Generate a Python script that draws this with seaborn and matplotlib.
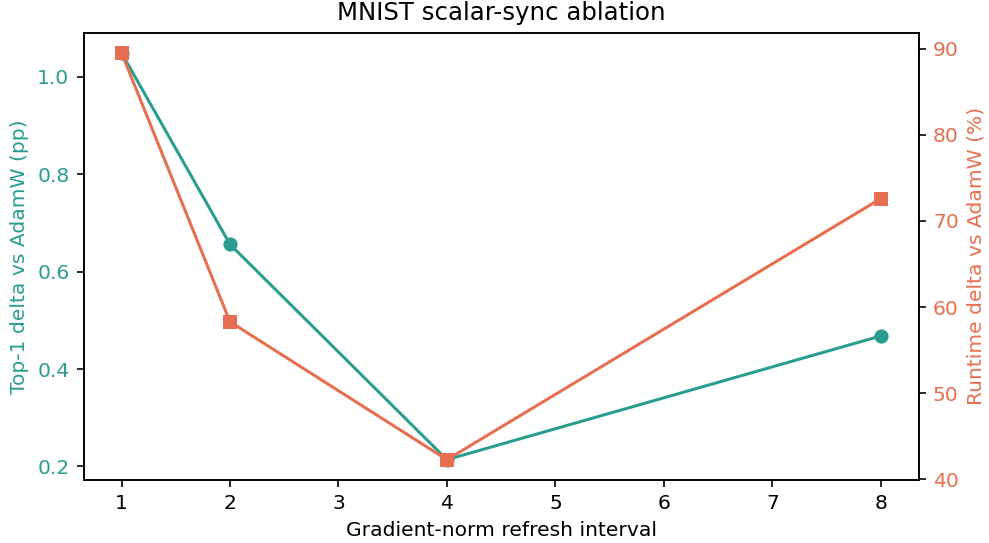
import matplotlib
matplotlib.use("Agg")
import matplotlib.pyplot as plt
import seaborn as sns
import pandas as pd

intervals = [1, 2, 4, 8]
top1_delta = [1.049, 0.656, 0.214, 0.468]
runtime_delta = [89.5, 58.3, 42.3, 72.6]

teal = "#2a9d8f"
orange = "#e76f51"

plt.rcParams['font.family'] = ['DejaVu Sans']

df = pd.DataFrame({"interval": intervals, "top1": top1_delta, "runtime": runtime_delta})

DPI = 146
fig, ax = plt.subplots(figsize=(989 / DPI, 543 / DPI), dpi=DPI)
sns.lineplot(data=df, x="interval", y="top1", ax=ax, color=teal, marker="o",
             markersize=6, linewidth=1.5, markeredgewidth=1, markeredgecolor=teal)
ax2 = ax.twinx()
sns.lineplot(data=df, x="interval", y="runtime", ax=ax2, color=orange, marker="s",
             markersize=6, linewidth=1.5, markeredgewidth=1, markeredgecolor=orange)

ax.set_title("MNIST scalar-sync ablation", fontsize=12, color="black")
ax.set_xlabel("Gradient-norm refresh interval", fontsize=10, color="black")
ax.set_ylabel("Top-1 delta vs AdamW (pp)", color=teal, fontsize=10)
ax2.set_ylabel("Runtime delta vs AdamW (%)", color=orange, fontsize=10)
ax.tick_params(axis="y", color="black", labelcolor=teal, labelsize=10)
ax.tick_params(axis="x", color="black", labelcolor="black", labelsize=10)
ax2.tick_params(axis="y", color="black", labelcolor=orange, labelsize=10)

fig.subplots_adjust(left=0.0845, right=0.929, top=0.94, bottom=0.116)
fig.savefig("out.png", dpi=DPI)
